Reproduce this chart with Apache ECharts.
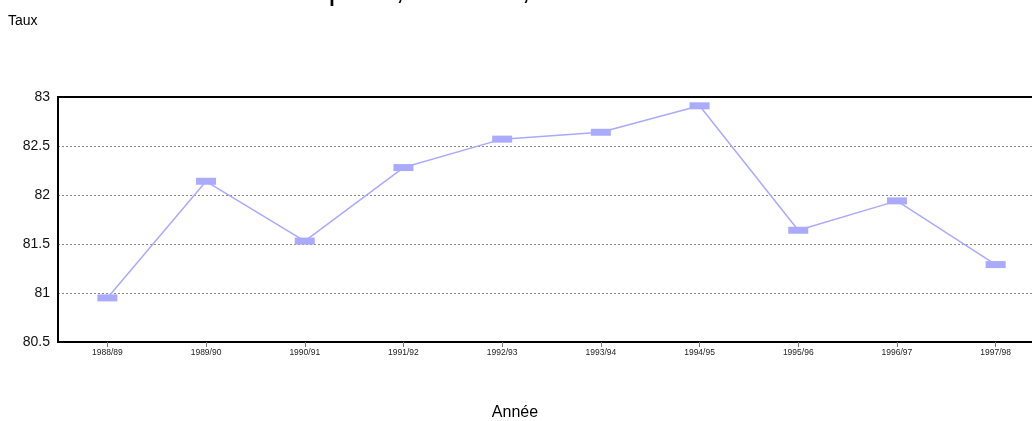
<!DOCTYPE html>
<html>
<head>
<meta charset="utf-8">
<script src="https://cdn.jsdelivr.net/npm/echarts@6/dist/echarts.min.js"></script>
<style>html,body{margin:0;padding:0;background:#fff;}#c{width:1032px;height:421px;}</style>
</head>
<body>
<div id="c"></div>
<script>
const titleText = "Taux d'inscription, Canada, 1988/89 - 1997/98";
const yName = "Taux";
const xName = "Année";
const categories = ["1988/89","1989/90","1990/91","1991/92","1992/93","1993/94","1994/95","1995/96","1996/97","1997/98"];
const values = [80.95, 82.14, 81.53, 82.28, 82.57, 82.64, 82.91, 81.64, 81.94, 81.29];
const yMin = 80.5, yMax = 83, yStep = 0.5;

const chart = echarts.init(document.getElementById('c'), null, {renderer: 'canvas'});
chart.setOption({
  animation: false,
  backgroundColor: '#fff',
  grid: {left: 58, top: 97, height: 245, width: 987, outerBoundsMode: 'none', containLabel: false, show: true, borderColor: '#000', borderWidth: 2, backgroundColor: 'transparent'},
  xAxis: {
    type: 'category', data: categories, boundaryGap: true,
    axisLine: {lineStyle: {color: '#000', width: 2}},
    axisTick: {show: true, alignWithLabel: true, length: 5, lineStyle: {color: '#777', width: 1}},
    axisLabel: {fontFamily: 'Liberation Sans, Arial, sans-serif', fontSize: 8.5, color: '#222', margin: 6},
    splitLine: {show: false}
  },
  yAxis: {
    type: 'value', min: yMin, max: yMax, interval: yStep,
    axisLine: {show: true, lineStyle: {color: '#000', width: 2}},
    axisTick: {show: false},
    axisLabel: {fontFamily: 'Liberation Sans, Arial, sans-serif', fontSize: 14, color: '#111', margin: 8},
    splitLine: {show: true, showMinLine: false, showMaxLine: false, lineStyle: {color: '#888', width: 1, type: [2, 2]}}
  },
  graphic: [
    {type: 'text', x: 159, y: -25.5, style: {text: titleText, fontFamily: 'Liberation Sans, Arial, sans-serif', fontSize: 31, fill: '#000', verticalAlign: 'top'}},
    {type: 'text', left: 8, top: 14, style: {text: yName, fontFamily: 'Liberation Sans, Arial, sans-serif', fontSize: 14, fill: '#000'}},
    {type: 'text', x: 515, y: 405, style: {text: xName, align: 'center', fontFamily: 'Liberation Sans, Arial, sans-serif', fontSize: 16, fill: '#000'}}
  ],
  series: [{
    type: 'line', data: values,
    symbol: 'rect', symbolSize: [20, 7], showAllSymbol: true,
    lineStyle: {color: '#aaaaff', width: 1.5},
    itemStyle: {color: '#aaaaff', borderWidth: 0}
  }]
});
</script>
</body>
</html>
